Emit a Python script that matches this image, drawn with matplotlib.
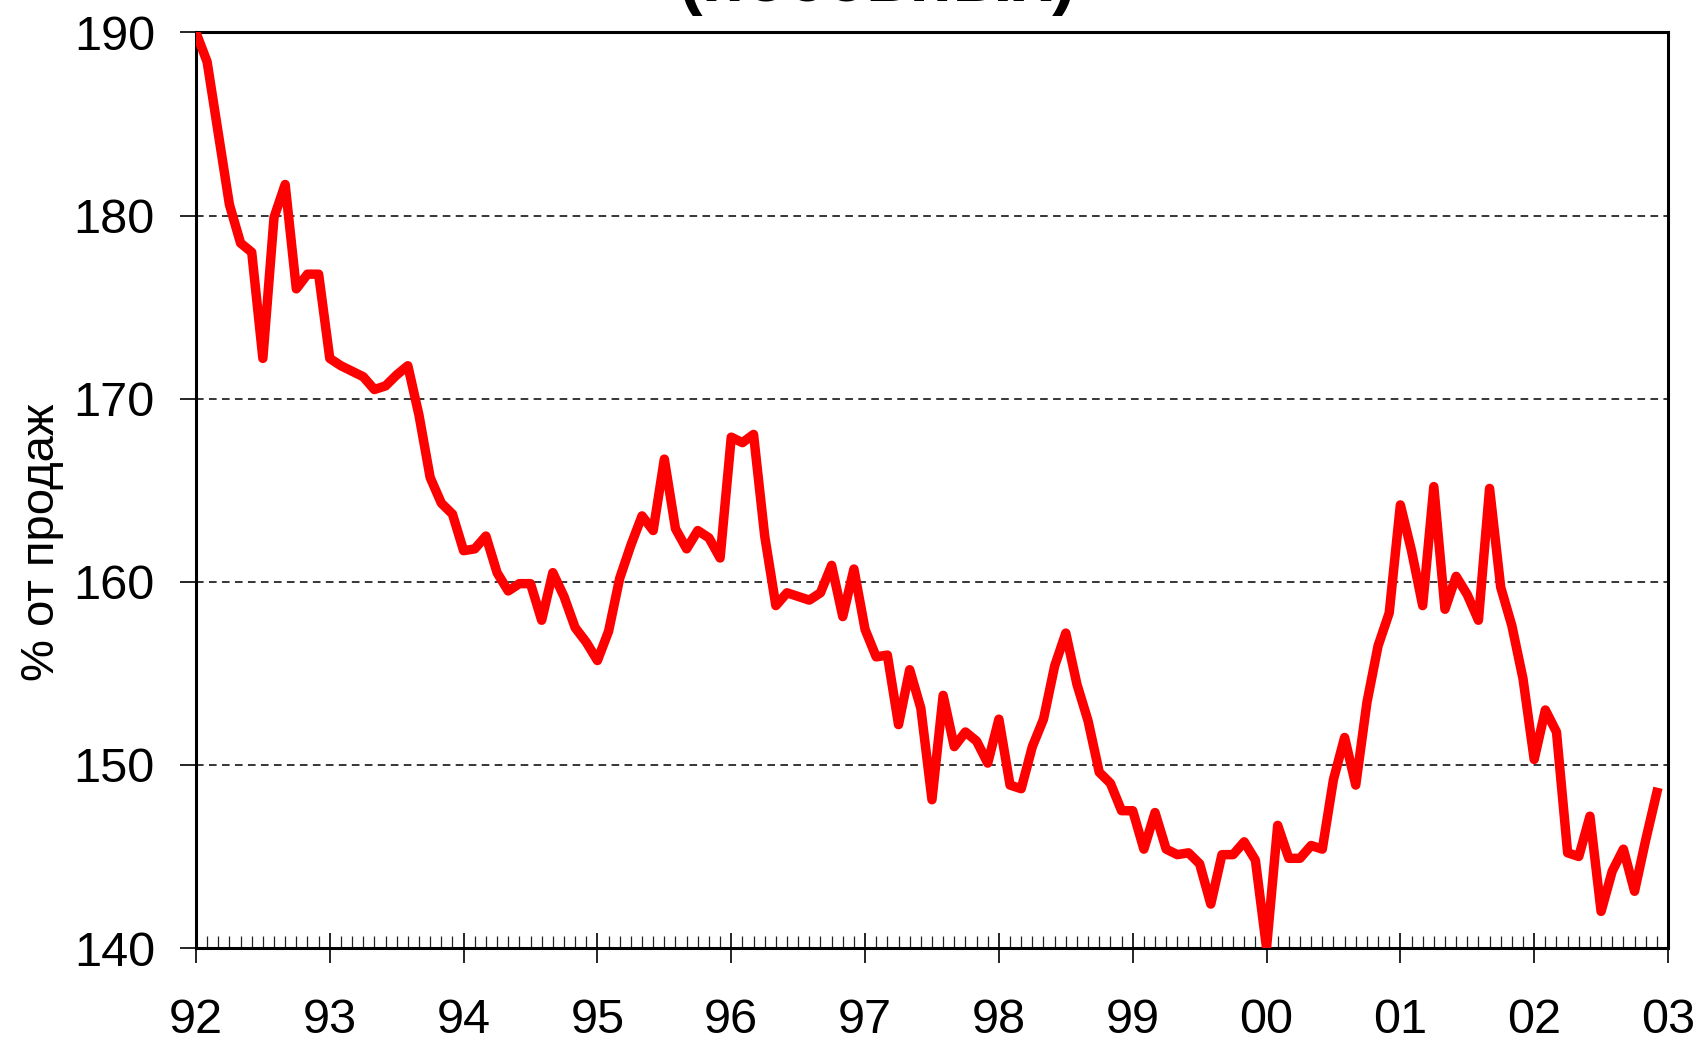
import numpy as np
import matplotlib
matplotlib.use('Agg')
import matplotlib.pyplot as plt

# monthly values, Jan 1992 .. Dec 2002 (% of sales)
start_year = 1992
values = [
	190.0, 188.4, 184.5, 180.6, 178.5, 178.0, 172.2, 179.9, 181.7, 176.0, 176.8, 176.8,  # 92
	172.2, 171.8, 171.5, 171.2, 170.5, 170.7, 171.3, 171.8, 169.1, 165.7, 164.3, 163.7,  # 93
	161.7, 161.8, 162.5, 160.5, 159.5, 159.9, 159.9, 157.9, 160.5, 159.2, 157.5, 156.7,  # 94
	155.7, 157.3, 160.2, 162.0, 163.6, 162.8, 166.7, 162.9, 161.8, 162.8, 162.4, 161.3,  # 95
	167.9, 167.6, 168.05, 162.5, 158.7, 159.4, 159.2, 159.0, 159.4, 160.9, 158.1, 160.7,  # 96
	157.4, 155.9, 156.0, 152.2, 155.2, 153.1, 148.1, 153.8, 151.0, 151.8, 151.3, 150.1,  # 97
	152.5, 148.9, 148.7, 151.0, 152.5, 155.4, 157.2, 154.4, 152.4, 149.6, 149.0, 147.5,  # 98
	147.5, 145.4, 147.4, 145.4, 145.1, 145.2, 144.6, 142.4, 145.1, 145.1, 145.8, 144.8,  # 99
	140.0, 146.7, 144.9, 144.9, 145.6, 145.4, 149.2, 151.5, 148.9, 153.4, 156.5, 158.3,  # 00
	164.2, 161.7, 158.7, 165.2, 158.5, 160.3, 159.3, 157.9, 165.1, 159.7, 157.6, 154.7,  # 01
	150.3, 153.0, 151.8, 145.2, 145.0, 147.2, 142.0, 144.2, 145.4, 143.1, 145.9, 148.5,  # 02
]
year_labels = ['92', '93', '94', '95', '96', '97', '98', '99', '00', '01', '02', '03']
y_ticks = [140, 150, 160, 170, 180, 190]
grid_levels = [150, 160, 170, 180]

plt.rcParams['font.family'] = ['Liberation Sans', 'DejaVu Sans']

fig = plt.figure(figsize=(17.01, 10.41), dpi=100)
ax = fig.add_axes([0.1152, 0.0893, 0.8654, 0.8795])

x = start_year + np.arange(len(values)) / 12.0
ax.plot(x, values, color='#ff0000', lw=6.8, solid_joinstyle='round', zorder=3)

for g in grid_levels:
	ax.axhline(g, color='black', lw=1.1, ls=(0, (5, 3.5)), zorder=1)

ax.set_xlim(start_year, start_year + len(year_labels) - 1)
ax.set_ylim(140, 190)

ax.set_xticks(start_year + np.arange(len(year_labels)))
ax.set_xticklabels(year_labels)
ax.set_xticks(start_year + np.arange(0, 12 * (len(year_labels) - 1)) / 12.0, minor=True)
ax.set_yticks(y_ticks)

ax.tick_params(axis='x', which='major', direction='inout', length=22, width=1.2,
			   labelsize=35, pad=25)
ax.tick_params(axis='x', which='minor', direction='in', length=8.5, width=0.9, color='#222222')
ax.tick_params(axis='y', which='major', direction='out', length=11.5, width=1.2,
			   labelsize=35, pad=18)

for s in ax.spines.values():
	s.set_linewidth(2.2)
	s.set_color('black')

fig.text(0.0245, 0.479, '% от продаж', rotation=90, ha='center', va='center', fontsize=34)
# title is mostly cut off at the top edge, as in the source image
fig.text(0.516, 1 - 1 / 1041, '(посевных)', ha='center', va='baseline',
		 fontsize=51, fontweight='bold')

fig.savefig('out.png', dpi=100)
